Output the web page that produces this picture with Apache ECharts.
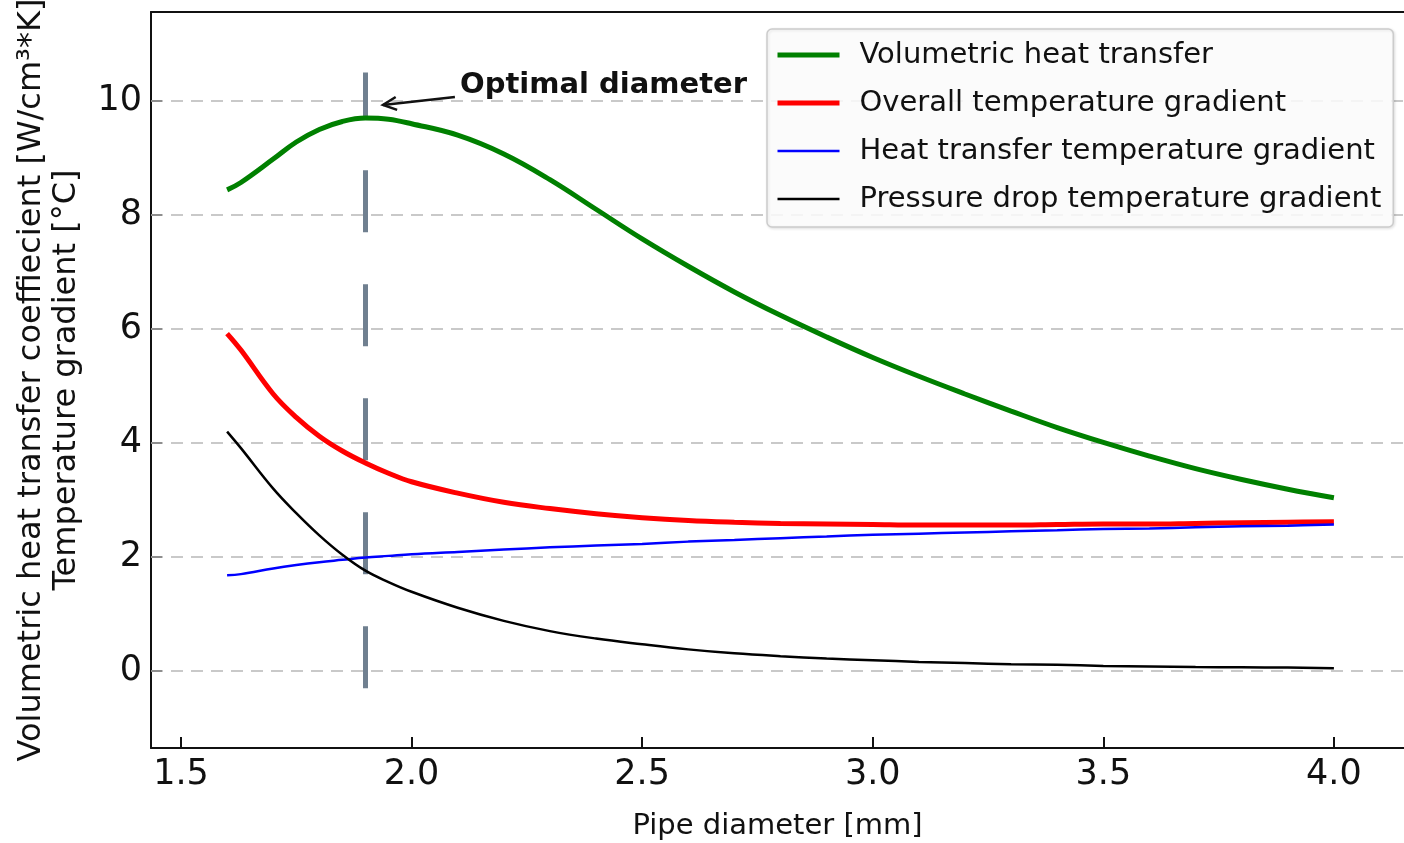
<!DOCTYPE html>
<html>
<head>
<meta charset="utf-8">
<title>Optimal pipe diameter</title>
<script src="https://cdn.jsdelivr.net/npm/echarts@6/dist/echarts.min.js"></script>
<style>
  html, body { margin: 0; padding: 0; background: #fff; }
  #main { width: 1404px; height: 843px; }
</style>
</head>
<body>
<div id="main"></div>
<script type="text/javascript">
    // pipe diameter [mm]
    var diameter = [1.6, 1.63, 1.7, 1.75, 1.8, 1.85, 1.9, 1.95, 2.0, 2.1, 2.2, 2.3, 2.4, 2.5, 2.6, 2.7, 2.8, 2.9, 3.0, 3.1, 3.2, 3.3, 3.4, 3.5, 3.6, 3.7, 3.8, 3.9, 4.0];
    var volHeat = [8.44, 8.57, 8.98, 9.28, 9.50, 9.64, 9.70, 9.68, 9.60, 9.40, 9.07, 8.62, 8.10, 7.58, 7.10, 6.65, 6.24, 5.86, 5.50, 5.17, 4.86, 4.56, 4.27, 4.01, 3.77, 3.55, 3.36, 3.19, 3.04];
    var overallGrad = [5.92, 5.63, 4.86, 4.45, 4.12, 3.86, 3.65, 3.47, 3.32, 3.12, 2.96, 2.85, 2.76, 2.69, 2.64, 2.61, 2.59, 2.58, 2.57, 2.56, 2.56, 2.56, 2.57, 2.58, 2.58, 2.59, 2.60, 2.61, 2.62];
    var heatGrad = [1.68, 1.70, 1.80, 1.86, 1.91, 1.95, 1.99, 2.02, 2.05, 2.09, 2.13, 2.17, 2.20, 2.23, 2.27, 2.30, 2.33, 2.36, 2.39, 2.41, 2.43, 2.45, 2.47, 2.49, 2.50, 2.52, 2.54, 2.55, 2.57];
    var pressGrad = [4.20, 3.91, 3.20, 2.77, 2.38, 2.04, 1.76, 1.56, 1.39, 1.11, 0.88, 0.70, 0.57, 0.47, 0.38, 0.31, 0.26, 0.22, 0.19, 0.16, 0.14, 0.12, 0.11, 0.09, 0.08, 0.07, 0.065, 0.06, 0.05];

    var xTicks = [1.5, 2.0, 2.5, 3.0, 3.5, 4.0];
    var yTicks = [0, 2, 4, 6, 8, 10];

    var optimalD = 1.9;
    var optimalRange = [-0.3, 10.5];
    // annotation arrow: tip near the peak, tail at the text
    var arrowTip = [1.938, 9.93];
    var arrowTail = [2.094, 10.07];
    var labelPos = [2.105, 10.28];

    function pairs(ys) {
        var out = [];
        for (var i = 0; i < diameter.length; i++) {
            out.push([diameter[i], ys[i]]);
        }
        return out;
    }

    var font = 'DejaVu Sans';
    var myChart = echarts.init(document.getElementById('main'));

    var gridLines = [];
    for (var k = 0; k < yTicks.length; k++) {
        gridLines.push({ yAxis: yTicks[k] });
    }

    var option = {
        animation: false,
        backgroundColor: '#fff',
        grid: { left: 151, top: 12, right: 0, bottom: 95, outerBoundsMode: 'none' },
        legend: {
            z: 20,
            left: 767,
            top: 29,
            orient: 'vertical',
            itemWidth: 62,
            itemHeight: 14,
            itemGap: 16,
            padding: [10, 12, 12, 8],
            backgroundColor: 'rgba(255,255,255,0.85)',
            borderColor: '#cccccc',
            borderWidth: 1.5,
            borderRadius: 5,
            shadowColor: 'rgba(0,0,0,0.12)',
            shadowBlur: 3,
            shadowOffsetX: 1,
            shadowOffsetY: 1,
            itemStyle: { opacity: 0 },
            textStyle: {
                fontFamily: font,
                fontSize: 29,
                lineHeight: 32,
                color: '#111',
                padding: [0, 0, 0, 15]
            },
            data: [
                { name: 'Volumetric heat transfer', lineStyle: { width: 5 } },
                { name: 'Overall temperature gradient', lineStyle: { width: 5 } },
                { name: 'Heat transfer temperature gradient', lineStyle: { width: 2.5 } },
                { name: 'Pressure drop temperature gradient', lineStyle: { width: 2.5 } }
            ]
        },
        xAxis: [{
            type: 'value',
            min: 1.435,
            max: 4.152,
            name: 'Pipe diameter [mm]',
            nameLocation: 'middle',
            nameGap: 64,
            nameTextStyle: { fontFamily: font, fontSize: 29, color: '#111' },
            axisLine: { onZero: false, lineStyle: { color: '#111', width: 2 } },
            axisTick: { inside: true, length: 11, customValues: xTicks, lineStyle: { color: '#111', width: 2 } },
            axisLabel: {
                customValues: xTicks,
                margin: 9,
                fontFamily: font,
                fontSize: 35,
                color: '#111',
                formatter: function (v) { return v.toFixed(1); }
            },
            splitLine: { show: false }
        }, {
            type: 'value',
            position: 'top',
            min: 1.435,
            max: 4.152,
            axisLine: { onZero: false, lineStyle: { color: '#111', width: 2 } },
            axisTick: { show: false },
            axisLabel: { show: false },
            splitLine: { show: false }
        }],
        yAxis: {
            type: 'value',
            min: -1.35,
            max: 11.56,
            name: 'Volumetric heat transfer coeffiecient [W/cm³*K]\nTemperature gradient [°C]',
            nameLocation: 'middle',
            nameRotate: 90,
            nameGap: 67,
            nameTextStyle: { fontFamily: font, fontSize: 32, lineHeight: 35, color: '#111' },
            axisLine: { onZero: false, lineStyle: { color: '#111', width: 2 } },
            axisTick: { inside: true, length: 11, customValues: yTicks, lineStyle: { color: '#111', width: 2 } },
            axisLabel: {
                customValues: yTicks,
                margin: 9,
                fontFamily: font,
                fontSize: 35,
                color: '#111'
            },
            splitLine: { show: false }
        },
        series: [{
            // background: dashed grid and optimal diameter marker
            name: 'bg',
            type: 'line',
            data: [],
            z: 1,
            silent: true,
            markLine: {
                z: 1,
                silent: true,
                symbol: ['none', 'none'],
                label: { show: false },
                data: gridLines.concat([
                    [{ coord: [optimalD, optimalRange[0]],
                       lineStyle: { color: '#708090', width: 5, type: [62, 52], cap: 'butt' } },
                     { coord: [optimalD, optimalRange[1]] }]
                ]),
                lineStyle: { color: '#b8b8b8', width: 1.5, type: [12, 8] }
            }
        }, {
            name: 'Volumetric heat transfer',
            type: 'line',
            data: pairs(volHeat),
            symbol: 'none',
            smooth: 0.4,
            z: 3,
            lineStyle: { color: '#008000', width: 5 },
            itemStyle: { color: '#008000' }
        }, {
            name: 'Overall temperature gradient',
            type: 'line',
            data: pairs(overallGrad),
            symbol: 'none',
            smooth: 0.4,
            z: 3,
            lineStyle: { color: '#ff0000', width: 5 },
            itemStyle: { color: '#ff0000' }
        }, {
            name: 'Heat transfer temperature gradient',
            type: 'line',
            data: pairs(heatGrad),
            symbol: 'none',
            smooth: 0.4,
            z: 3,
            lineStyle: { color: '#0000ff', width: 2.5 },
            itemStyle: { color: '#0000ff' }
        }, {
            name: 'Pressure drop temperature gradient',
            type: 'line',
            data: pairs(pressGrad),
            symbol: 'none',
            smooth: 0.4,
            z: 3,
            lineStyle: { color: '#000000', width: 2.5 },
            itemStyle: { color: '#000000' }
        }]
    };
    myChart.setOption(option);

    // annotation: arrow + bold text, positioned from data coords
    var tip = myChart.convertToPixel({ gridIndex: 0 }, arrowTip);
    var tail = myChart.convertToPixel({ gridIndex: 0 }, arrowTail);
    var txt = myChart.convertToPixel({ gridIndex: 0 }, labelPos);
    var ang = Math.atan2(tail[1] - tip[1], tail[0] - tip[0]);
    var hl = 15, spread = Math.PI / 7;
    var h1 = [tip[0] + hl * Math.cos(ang + spread), tip[1] + hl * Math.sin(ang + spread)];
    var h2 = [tip[0] + hl * Math.cos(ang - spread), tip[1] + hl * Math.sin(ang - spread)];
    myChart.setOption({
        graphic: [{
            type: 'polyline',
            z: 10,
            shape: { points: [tail, tip] },
            style: { stroke: '#111', lineWidth: 2.5, fill: null }
        }, {
            type: 'polyline',
            z: 10,
            shape: { points: [h1, tip, h2] },
            style: { stroke: '#111', lineWidth: 2.5, fill: null }
        }, {
            type: 'text',
            z: 10,
            x: txt[0],
            y: txt[1],
            style: {
                text: 'Optimal diameter',
                font: 'bold 29px "DejaVu Sans"',
                fill: '#111',
                verticalAlign: 'middle'
            }
        }]
    });
</script>
</body>
</html>
